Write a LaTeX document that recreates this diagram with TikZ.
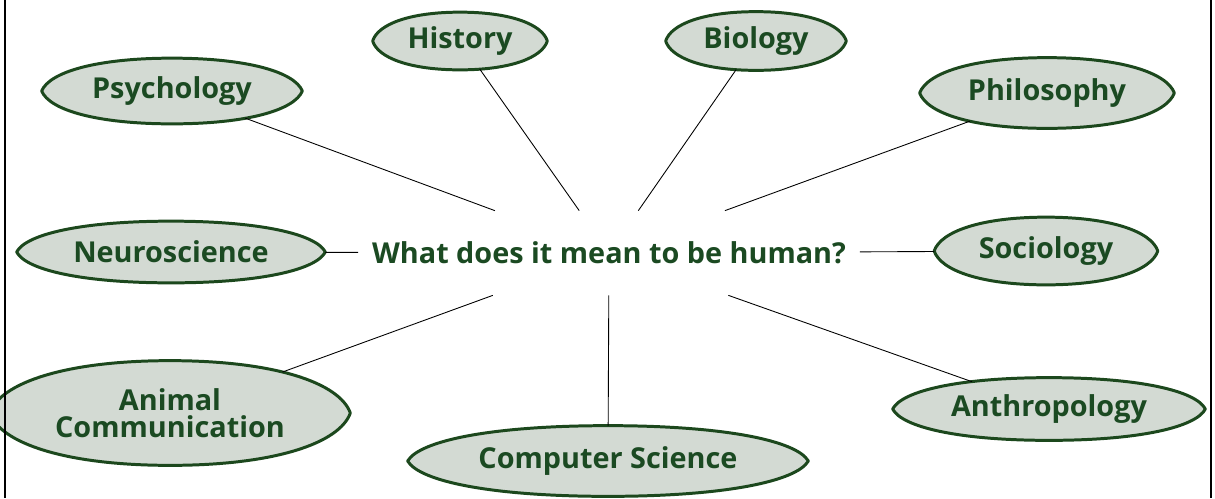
\documentclass[tikz,border=0pt]{standalone}
\usepackage{fontspec}
\setsansfont{Open Sans}
\usetikzlibrary{shapes.geometric,calc}
\pgfdeclarelayer{background}
\pgfsetlayers{background,main}
\definecolor{dgreen}{HTML}{1B4A22}
\definecolor{lensfill}{HTML}{D3DAD3}
\definecolor{lensdraw}{HTML}{1C481D}
\tikzset{
  topic/.style={ellipse, draw=none, inner sep=0pt, align=center,
    font=\sffamily\bfseries\fontsize{16.4}{18.5}\selectfont, text=dgreen},
  question/.style={rectangle, draw=none, inner sep=0pt, minimum width=501*0.02cm,
    minimum height=84*0.02cm, font=\sffamily\bfseries\fontsize{16.4}{18.5}\selectfont, text=dgreen},
  lens/.style={fill=lensfill, draw=lensdraw, line width=1.7pt, line join=round},
  link/.style={draw=black, line width=0.5pt},
  frame/.style={draw=black, line width=1.3pt}
}
\begin{document}
\begin{tikzpicture}[x=0.02cm,y=-0.02cm]
\clip (0,0) rectangle (1215,498);
\node[question] (q) at (609,253) {What does it mean to be human?};
\node[topic, minimum width=260*0.02cm, minimum height=65*0.02cm] (psy) at (172,91) {Psychology};
\node[topic, minimum width=174*0.02cm, minimum height=57*0.02cm] (his) at (460,41) {History};
\node[topic, minimum width=180*0.02cm, minimum height=58*0.02cm] (bio) at (756,41) {Biology};
\node[topic, minimum width=254*0.02cm, minimum height=70*0.02cm] (phi) at (1047,93) {Philosophy};
\node[topic, minimum width=308*0.02cm, minimum height=61*0.02cm] (neu) at (171,252) {Neuroscience};
\node[topic, minimum width=223*0.02cm, minimum height=67*0.02cm] (soc) at (1046,251) {Sociology};
\node[topic, minimum width=360*0.02cm, minimum height=104*0.02cm] (ani) at (170,413) {Animal\\[-3pt]Communication};
\node[topic, minimum width=400*0.02cm, minimum height=70*0.02cm] (com) at (608,461) {Computer Science};
\node[topic, minimum width=312*0.02cm, minimum height=62*0.02cm] (ant) at (1049,409) {Anthropology};
\foreach \n in {psy,his,bio,phi,neu,soc,ani,com,ant}{
  \coordinate (NW) at (\n.west |- \n.north);
  \coordinate (NE) at (\n.east |- \n.north);
  \coordinate (SW) at (\n.west |- \n.south);
  \coordinate (SE) at (\n.east |- \n.south);
  \begin{pgfonlayer}{background}
  \path[lens] (\n.west)
    .. controls ($(\n.west)!0.55!(NW)!0.06!(\n.north)$) and ($(\n.north)!0.58!(NW)$) .. (\n.north)
    .. controls ($(\n.north)!0.58!(NE)$) and ($(\n.east)!0.55!(NE)!0.06!(\n.north)$) .. (\n.east)
    .. controls ($(\n.east)!0.55!(SE)!0.06!(\n.south)$) and ($(\n.south)!0.58!(SE)$) .. (\n.south)
    .. controls ($(\n.south)!0.58!(SW)$) and ($(\n.west)!0.55!(SW)!0.06!(\n.south)$) .. (\n.west) -- cycle;
  \end{pgfonlayer}
}
\foreach \n in {psy,his,bio,phi,neu,soc,ani,com,ant}{
  \draw[link] (q) -- (\n);
}
\draw[frame] (5,0) -- (5,498);
\draw[frame] (1211,0) -- (1211,498);
\end{tikzpicture}
\end{document}
